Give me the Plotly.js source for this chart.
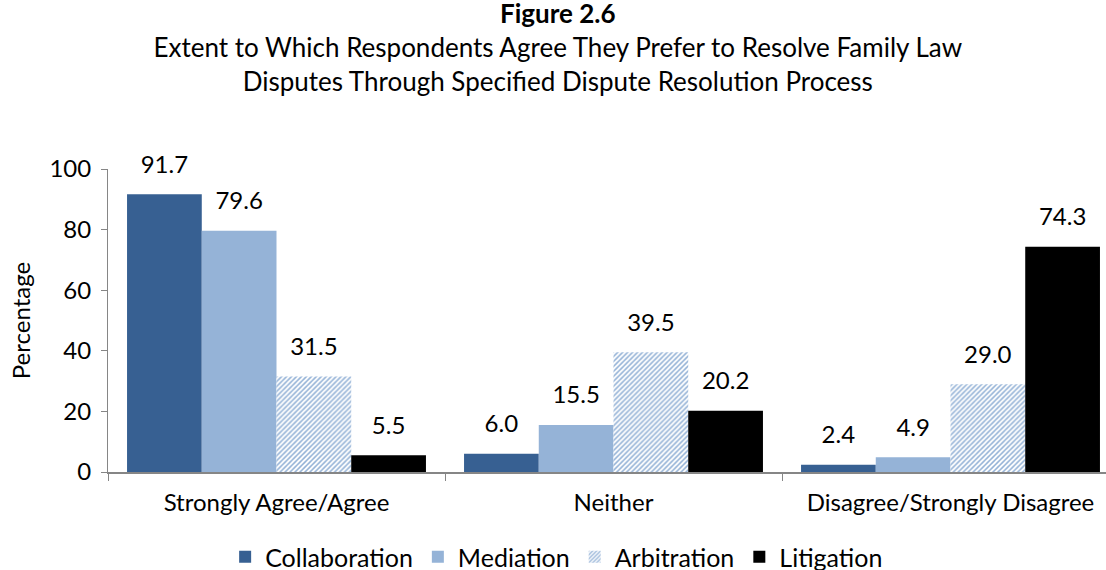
<!DOCTYPE html>
<html>
<head>
<meta charset="utf-8">
<script src="https://cdn.plot.ly/plotly-3.0.1.min.js"></script>
<style>
  body { margin: 0; padding: 0; background: #fff; overflow: hidden; }
  #plot { width: 1120px; height: 580px; }
</style>
</head>
<body>
<div id="plot"></div>
<script>
// categories and series values
let categories = ["Strongly Agree/Agree", "Neither", "Disagree/Strongly Disagree"];
let collaboration = [91.7, 6.0, 2.4];
let mediation = [79.6, 15.5, 4.9];
let arbitration = [31.5, 39.5, 29.0];
let litigation = [5.5, 20.2, 74.3];

let fontFamily = "Lato, 'Open Sans', sans-serif";

function makeTrace(name, values, color) {
  return {
    x: categories,
    y: values,
    name: name,
    type: "bar",
    marker: {color: color},
    // small trailing line lifts the label off the bar top
    texttemplate: "<span style='font-size:24px'>%{y:.1f}</span><br> ",
    textposition: "outside",
    constraintext: "none",
    textfont: {family: fontFamily, size: 12, color: "#000"},
    cliponaxis: false,
    hoverinfo: "name+y"
  };
}

let trace1 = makeTrace("Collaboration", collaboration, "#376092");
let trace2 = makeTrace("Mediation", mediation, "#95b3d7");
let trace3 = makeTrace("Arbitration", arbitration, "#ffffff");
trace3.marker.pattern = {shape: "/", fgcolor: "#95b3d7", bgcolor: "#ffffff", size: 3.5, solidity: 0.45};
let trace4 = makeTrace("Litigation", litigation, "#000000");

let traceData = [trace1, trace2, trace3, trace4];

let layout = {
  width: 1120,
  height: 580,
  margin: {l: 108, r: 1, t: 169, b: 108},
  paper_bgcolor: "#fff",
  plot_bgcolor: "#fff",
  font: {family: fontFamily, size: 24, color: "#000"},
  title: {
    text: "<b>Figure 2.6</b><br>Extent to Which Respondents Agree They Prefer to Resolve Family Law<br>Disputes Through Specified Dispute Resolution Process",
    font: {size: 26, color: "#000"},
    xref: "container",
    x: 0.498,
    xanchor: "center",
    yref: "container",
    y: 0.96,
    yanchor: "top"
  },
  barmode: "group",
  bargap: 0.113,
  bargroupgap: 0,
  showlegend: true,
  legend: {
    orientation: "h",
    xref: "container",
    yref: "container",
    x: 0.497,
    xanchor: "center",
    y: 0,
    yanchor: "bottom",
    font: {size: 25, color: "#000"},
    itemwidth: 30,
    traceorder: "normal"
  },
  xaxis: {
    showline: true,
    linecolor: "#868686",
    linewidth: 2,
    ticks: "outside",
    tickson: "boundaries",
    ticklen: 7,
    tickcolor: "#868686",
    tickfont: {size: 24},
    tickangle: 0,
    ticklabelstandoff: 8,
    showgrid: false,
    automargin: false
  },
  yaxis: {
    range: [0, 100],
    dtick: 20,
    showline: true,
    linecolor: "#868686",
    linewidth: 1,
    ticks: "outside",
    ticklen: 6,
    tickcolor: "#868686",
    tickfont: {size: 24},
    ticklabelstandoff: 5,
    showgrid: false,
    zeroline: false,
    automargin: false,
    title: {text: "Percentage", font: {size: 24}, standoff: 12}
  }
};

Plotly.newPlot("plot", traceData, layout, {displayModeBar: false});
</script>
</body>
</html>
